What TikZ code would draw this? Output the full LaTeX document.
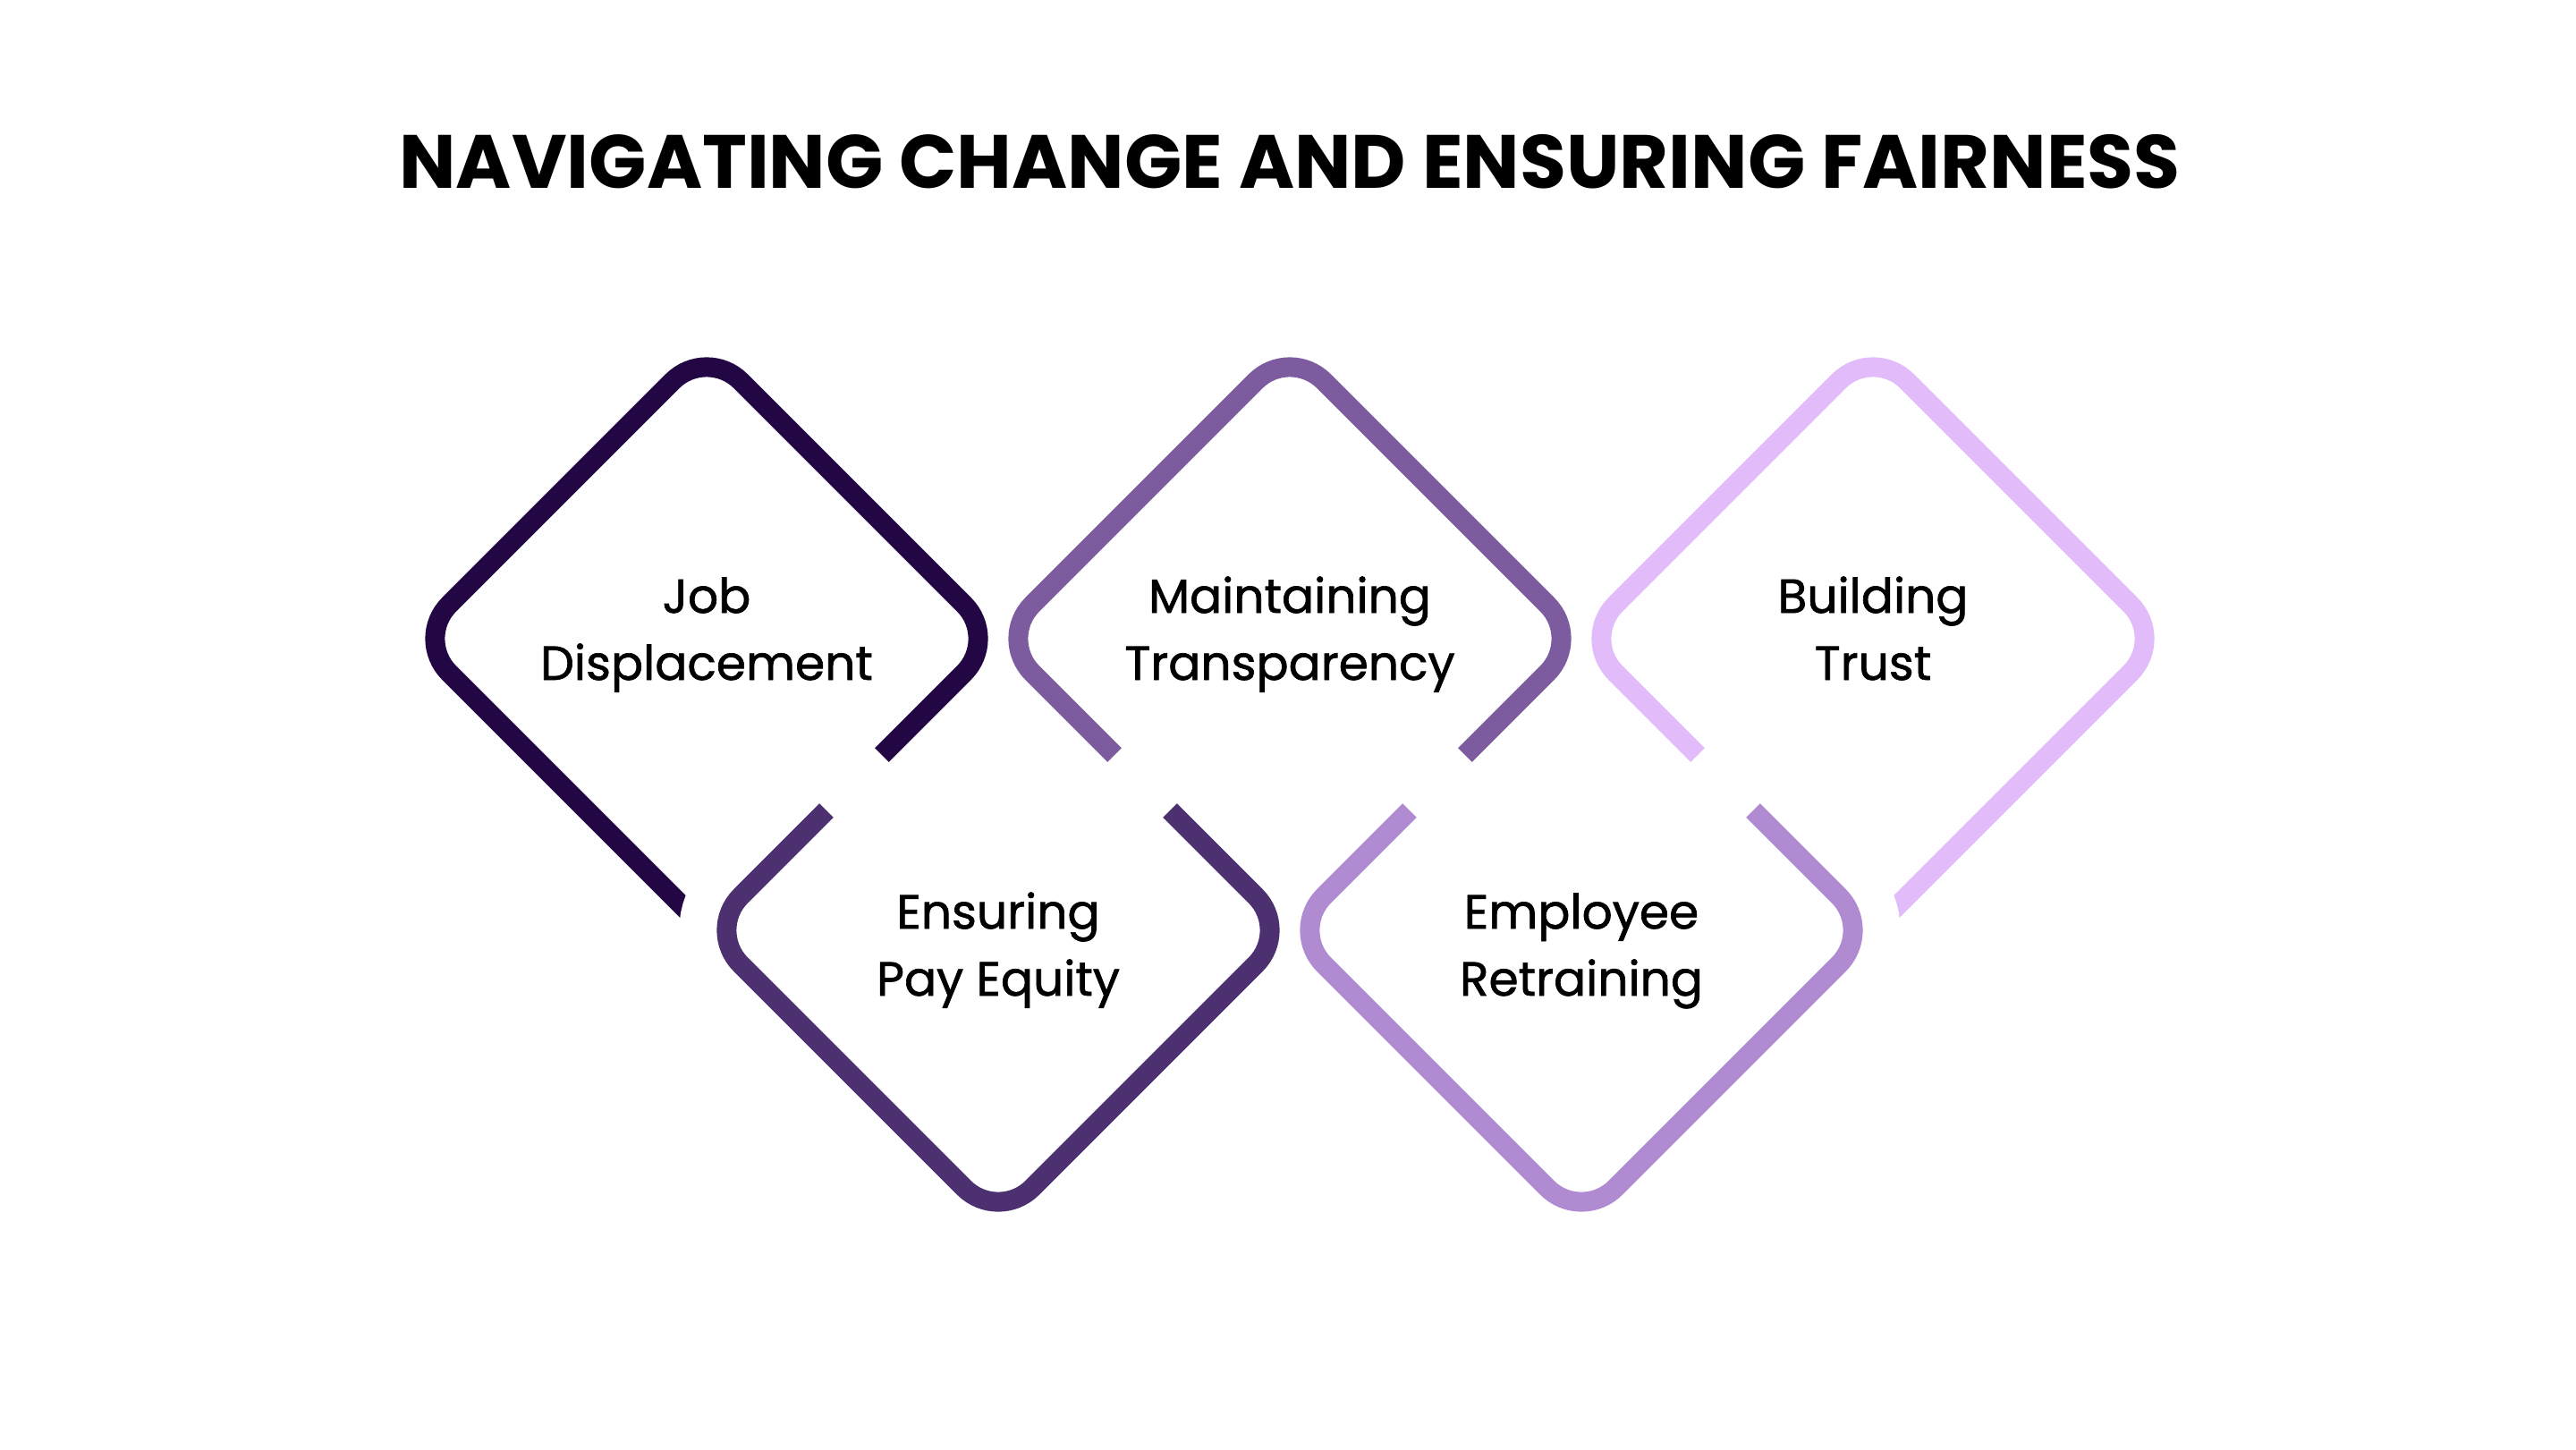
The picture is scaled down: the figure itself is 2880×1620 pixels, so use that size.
\documentclass[tikz,border=0pt]{standalone}
\usepackage{fontspec}
\setmainfont{Poppins}
\newfontfamily\itemfont{Poppins}[FakeBold=1.2]
\definecolor{ringA}{HTML}{230644}
\definecolor{ringB}{HTML}{4D3070}
\definecolor{ringC}{HTML}{7C5C9E}
\definecolor{ringD}{HTML}{B08BD2}
\definecolor{ringE}{HTML}{E2BCFA}
\begin{document}
\begin{tikzpicture}[x=0.01cm,y=-0.01cm,ring/.style={line width=0.22cm,rounded corners=0.54cm},ringgap/.style={white,line width=1.06cm,rounded corners=0.54cm},itemtext/.style={anchor=base,align=center,font=\itemfont\fontsize{15.2}{21.3}\selectfont},titletext/.style={anchor=base,font=\bfseries\fontsize{24}{30}\selectfont}]
\def\rH{326};
\def\rA{130};
\def\rB{134};
\def\cA{790}
\def\cB{1116}
\def\cC{1442}
\def\cD{1768}
\def\cE{2094}
\def\yT{714}
\def\yB{1040}

\useasboundingbox (0,0) rectangle (2880,1620);

\node[titletext] (title) at (1442,210) {NAVIGATING CHANGE AND ENSURING FAIRNESS};

% upper row
\draw[ring,ringA] (\cA+\rH-\rA,\yT+\rA) -- (\cA+\rH,\yT) -- (\cA,\yT-\rH) -- (\cA-\rH,\yT) -- (\cA-15,\yT+\rH-15);
\draw[ring,ringC] (\cC-\rH+\rA,\yT+\rA) -- (\cC-\rH,\yT) -- (\cC,\yT-\rH) -- (\cC+\rH,\yT) -- (\cC+\rH-\rA,\yT+\rA);
\draw[ring,ringE] (\cE+15,\yT+\rH-15) -- (\cE+\rH,\yT) -- (\cE,\yT-\rH) -- (\cE-\rH,\yT) -- (\cE-\rH+\rA,\yT+\rA);

% lower row, cut free from the upper one
\draw[ringgap] (\cB-\rH+80,\yB-80) -- (\cB-\rH,\yB) -- (\cB-\rH+80,\yB+80);
\draw[ringgap] (\cD+\rH-80,\yB-80) -- (\cD+\rH,\yB) -- (\cD+\rH-80,\yB+80);
\draw[ring,ringB] (\cB-\rH+\rB,\yB-\rB) -- (\cB-\rH,\yB) -- (\cB,\yB+\rH) -- (\cB+\rH,\yB) -- (\cB+\rH-\rB,\yB-\rB);
\draw[ring,ringD] (\cD-\rH+\rB,\yB-\rB) -- (\cD-\rH,\yB) -- (\cD,\yB+\rH) -- (\cD+\rH,\yB) -- (\cD+\rH-\rB,\yB-\rB);

\node[itemtext] (jobD) at (\cA,760) {Job\\Displacement};
\node[itemtext] (payE) at (\cB,1113) {Ensuring\\Pay Equity};
\node[itemtext] (trnsp) at (\cC,760) {Maintaining\\Transparency};
\node[itemtext] (retrn) at (\cD,1113) {Employee\\Retraining};
\node[itemtext] (trust) at (\cE,760) {Building\\Trust};
\end{tikzpicture}
\end{document}
